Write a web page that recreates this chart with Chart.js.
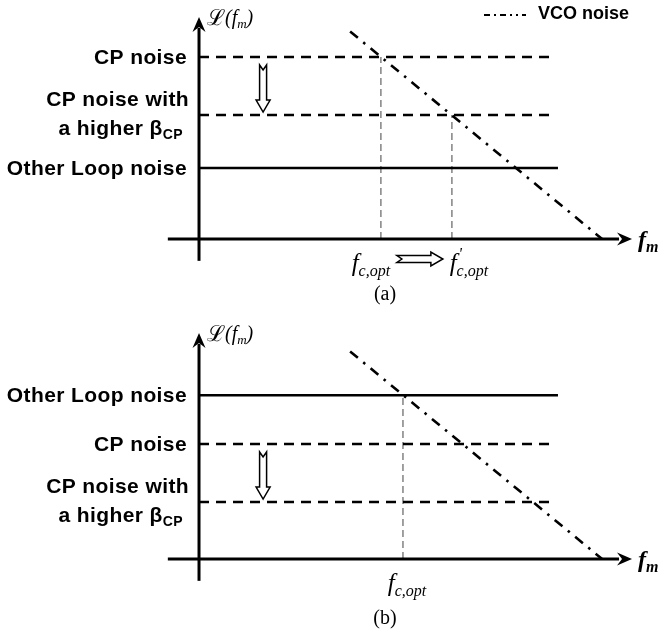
<!DOCTYPE html>
<html lang="en">
<head>
<meta charset="UTF-8">
<title>CP noise vs VCO noise</title>
<script src="https://cdn.jsdelivr.net/npm/chart.js"></script>
<style>
  body { margin: 0; background: #fff; }
  canvas { display: block; }
</style>
</head>
<body>
<canvas id="chartA" width="658" height="310"></canvas>
<canvas id="chartB" width="658" height="324"></canvas>
<script>
// x = offset frequency f_m (arbitrary units, y axis at 0)
// y = phase noise level (arbitrary units, x axis at 0)
const xAxisStart = -0.72;
const xAxisTip = 10.0;
const yAxisStart = -1.2;

// VCO noise (same in both panels)
const vcoX = [3.49, 9.31];
const vcoY = [11.4, 0];

// panel (a)
const levelNamesA = ['CP noise', 'CP noise with\na higher β_{CP}', 'Other Loop noise'];
const levelValuesA = [10.0, 6.81, 3.9];
const levelEndsA = [8.1, 8.18, 8.29];
const cutoffNamesA = ['f_{c,opt}', "f^{'}_{c,opt}"];
const cutoffXA = [4.2, 5.84];
const cutoffYA = [10.0, 6.81];
const yAxisTipA = 12.2;

// panel (b)
const levelNamesB = ['Other Loop noise', 'CP noise', 'CP noise with\na higher β_{CP}'];
const levelValuesB = [9.0, 6.32, 3.13];
const levelEndsB = [8.29, 8.1, 8.18];
const cutoffNamesB = ['f_{c,opt}'];
const cutoffXB = [4.71];
const cutoffYB = [9.0];
const yAxisTipB = 12.42;

const SANS = '"Liberation Sans", Arial, sans-serif';
const SERIF = '"Liberation Serif", "DejaVu Serif", "Times New Roman", serif';

function parseRich(str) {
  const out = [];
  const re = /([_^])\{([^}]*)\}|([^_^]+)/g;
  let m;
  while ((m = re.exec(str))) {
    if (m[3]) out.push({ t: m[3], k: 'n' });
    else out.push({ t: m[2], k: m[1] === '_' ? 'sub' : 'sup' });
  }
  return out;
}

// draws text with _{sub} and ^{sup} parts
function drawRich(ctx, str, x, y, f, align) {
  const parts = parseRich(str);
  const font = k => `${f.style || 'normal'} ${f.weight || 'normal'} ${k === 'n' ? f.size : Math.round(f.size * (f.subScale || 0.68))}px ${f.family}`;
  ctx.letterSpacing = f.spacing || '0px';
  let w = 0;
  parts.forEach((p, i) => {
    ctx.font = font(p.k);
    p.w = ctx.measureText(p.t).width;
    // a superscript followed by a subscript stacks over it
    if (p.k === 'sup' && parts[i + 1] && parts[i + 1].k === 'sub') p.adv = 0; else p.adv = p.w;
    w += p.adv;
  });
  let cx = align === 'right' ? x - w : align === 'center' ? x - w / 2 : x;
  ctx.textBaseline = 'middle';
  ctx.textAlign = 'left';
  parts.forEach(p => {
    ctx.font = font(p.k);
    const dy = p.k === 'sub' ? f.size * 0.3 : p.k === 'sup' ? -f.size * 0.35 : 0;
    ctx.fillText(p.t, cx + (p.k === 'sup' ? 2 : 0), y + dy);
    cx += p.adv;
  });
  ctx.letterSpacing = '0px';
  return w;
}

function hollowDown(ctx, cx, top, bottom) {
  const sw = 3.5, hw = 7, hl = 12, notch = 5;
  ctx.beginPath();
  ctx.moveTo(cx - sw, top);
  ctx.lineTo(cx, top + notch);
  ctx.lineTo(cx + sw, top);
  ctx.lineTo(cx + sw, bottom - hl);
  ctx.lineTo(cx + hw, bottom - hl);
  ctx.lineTo(cx, bottom);
  ctx.lineTo(cx - hw, bottom - hl);
  ctx.lineTo(cx - sw, bottom - hl);
  ctx.closePath();
  ctx.fillStyle = '#fff';
  ctx.fill();
  ctx.lineWidth = 1.5;
  ctx.strokeStyle = '#000';
  ctx.stroke();
}

function hollowRight(ctx, left, right, cy) {
  const sw = 3.5, hw = 7, hl = 12, notch = 5;
  ctx.beginPath();
  ctx.moveTo(left, cy - sw);
  ctx.lineTo(right - hl, cy - sw);
  ctx.lineTo(right - hl, cy - hw);
  ctx.lineTo(right, cy);
  ctx.lineTo(right - hl, cy + hw);
  ctx.lineTo(right - hl, cy + sw);
  ctx.lineTo(left, cy + sw);
  ctx.lineTo(left + notch, cy);
  ctx.closePath();
  ctx.fillStyle = '#fff';
  ctx.fill();
  ctx.lineWidth = 1.5;
  ctx.strokeStyle = '#000';
  ctx.stroke();
}

function line(data, color, width, dash, order) {
  return {
    data: data, showLine: true, borderColor: color, borderWidth: width,
    borderDash: dash || [], pointRadius: 0, fill: false, order: order,
    borderCapStyle: 'butt', clip: false
  };
}

function makeChart(id, p) {
  const datasets = [];
  p.cutX.forEach((x, i) => {
    datasets.push(line([{ x: x, y: 0 }, { x: x, y: p.cutY[i] }], '#8a8a8a', 1.6, [7, 4], 5));
  });
  p.values.forEach((v, i) => {
    const dashed = p.names[i].indexOf('CP') === 0;
    datasets.push(line([{ x: 0, y: v }, { x: p.ends[i], y: v }], '#000', 2.6, dashed ? [10, 7] : [], 4));
  });
  datasets.push(line([{ x: vcoX[0], y: vcoY[0] }, { x: vcoX[1], y: vcoY[1] }], '#000', 2.6, [10, 7, 2.5, 7], 3));
  datasets.push(line([{ x: xAxisStart, y: 0 }, { x: xAxisTip - 0.3, y: 0 }], '#000', 3, [], 1));
  datasets.push(line([{ x: 0, y: yAxisStart }, { x: 0, y: p.yTip - 0.6 }], '#000', 3, [], 1));

  const decor = {
    id: 'decor',
    afterDatasetsDraw(chart) {
      const ctx = chart.ctx;
      const xs = chart.scales.x, ys = chart.scales.y;
      const x0 = xs.getPixelForValue(0), y0 = ys.getPixelForValue(0);
      ctx.save();
      ctx.fillStyle = '#000';

      // arrow heads on axes
      const tx = xs.getPixelForValue(xAxisTip);
      ctx.beginPath();
      ctx.moveTo(tx, y0); ctx.lineTo(tx - 15, y0 - 6.5); ctx.lineTo(tx - 10, y0); ctx.lineTo(tx - 15, y0 + 6.5);
      ctx.closePath(); ctx.fill();
      const ty = ys.getPixelForValue(p.yTip);
      ctx.beginPath();
      ctx.moveTo(x0, ty); ctx.lineTo(x0 - 6.5, ty + 15); ctx.lineTo(x0, ty + 10); ctx.lineTo(x0 + 6.5, ty + 15);
      ctx.closePath(); ctx.fill();

      // axis titles
      ctx.font = `22px ${SERIF}`;
      ctx.textBaseline = 'middle';
      ctx.fillText('ℒ', x0 + 8, ty + 2);
      const lw = ctx.measureText('ℒ').width;
      drawRich(ctx, '(f_{m})', x0 + 8 + lw, ty + 2, { size: 20, style: 'italic', family: SERIF, subScale: 0.65 }, 'left');
      drawRich(ctx, 'f_{m}', tx + 6, y0 + 2, { size: 24, style: 'italic', weight: 'bold', family: SERIF, subScale: 0.65 }, 'left');

      // level labels
      const lf = { size: 21, weight: 'bold', family: SANS, subScale: 0.68, spacing: '0.4px' };
      p.names.forEach((n, i) => {
        const py = ys.getPixelForValue(p.values[i]);
        const lines = n.split('\n');
        if (lines.length === 1) {
          drawRich(ctx, lines[0], x0 - 12, py + 1, lf, 'right');
        } else {
          drawRich(ctx, lines[0], x0 - 10, py - 15, lf, 'right');
          drawRich(ctx, lines[1], x0 - 16, py + 14, lf, 'right');
        }
      });

      // beta change arrow
      const iHi = p.names.indexOf('CP noise');
      const iLo = p.names.indexOf('CP noise with\na higher β_{CP}');
      hollowDown(ctx, xs.getPixelForValue(1.48), ys.getPixelForValue(p.values[iHi]) + 8, ys.getPixelForValue(p.values[iLo]) - 3);

      // cutoff labels
      ctx.fillStyle = '#000';
      const cf = { size: 25, style: 'italic', family: SERIF, subScale: 0.64 };
      p.cutNames.forEach((n, i) => {
        drawRich(ctx, n, xs.getPixelForValue(p.cutX[i]) + p.cutDx[i], y0 + 25, cf, 'center');
      });
      if (p.cutX.length > 1) {
        hollowRight(ctx, xs.getPixelForValue(p.cutX[0]) + 16, xs.getPixelForValue(p.cutX[1]) - 9, y0 + 20);
      }

      // legend
      if (p.legend) {
        ctx.strokeStyle = '#000';
        ctx.lineWidth = 2;
        ctx.setLineDash([6, 4, 2, 4, 6, 4, 2, 4, 2, 4]);
        ctx.beginPath(); ctx.moveTo(484, 15); ctx.lineTo(526, 15); ctx.stroke();
        ctx.setLineDash([]);
        ctx.fillStyle = '#000';
        ctx.font = `bold 18px ${SANS}`;
        ctx.textBaseline = 'middle';
        ctx.fillText('VCO noise', 538, 14);
      }

      // caption
      ctx.font = `20px ${SERIF}`;
      ctx.textAlign = 'center';
      ctx.textBaseline = 'middle';
      ctx.fillText(p.caption, 385, y0 + p.capDy);
      ctx.restore();
    }
  };

  return new Chart(document.getElementById(id), {
    type: 'scatter',
    data: { datasets: datasets },
    options: {
      responsive: false,
      animation: false,
      events: [],
      layout: { padding: 0 },
      plugins: { legend: { display: false }, tooltip: { enabled: false } },
      scales: {
        x: { type: 'linear', display: false, min: -4.596, max: 10.6 },
        y: { type: 'linear', display: false, min: p.yMin, max: p.yMax }
      }
    },
    plugins: [decor]
  });
}

makeChart('chartA', {
  yMin: -3.9, yMax: 13.13, yTip: yAxisTipA,
  names: levelNamesA, values: levelValuesA, ends: levelEndsA,
  cutNames: cutoffNamesA, cutX: cutoffXA, cutY: cutoffYA, cutDx: [-10, 17],
  legend: true, caption: '(a)', capDy: 56
});
makeChart('chartB', {
  yMin: -4.12, yMax: 13.68, yTip: yAxisTipB,
  names: levelNamesB, values: levelValuesB, ends: levelEndsB,
  cutNames: cutoffNamesB, cutX: cutoffXB, cutY: cutoffYB, cutDx: [4],
  legend: false, caption: '(b)', capDy: 60
});
</script>
</body>
</html>
